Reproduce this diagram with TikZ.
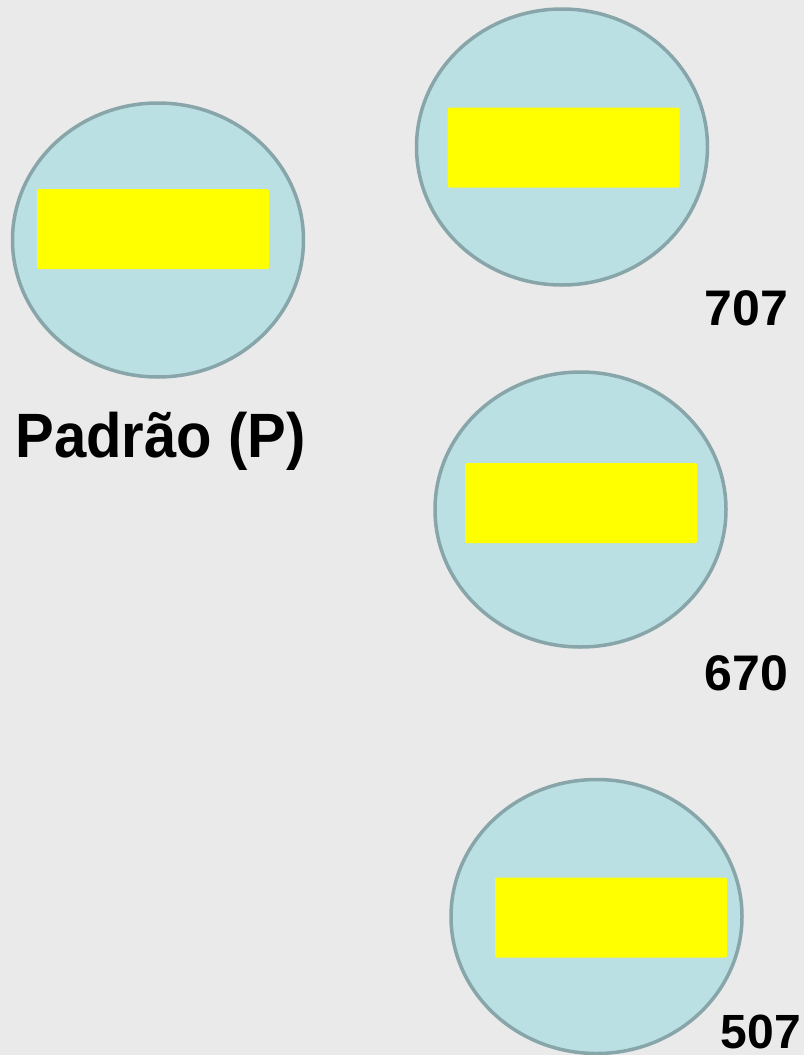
\documentclass[tikz,border=0pt]{standalone}
\usepackage{fontspec}
\setmainfont{Liberation Sans}
\definecolor{bgc}{HTML}{EAEAEA}
\definecolor{discfill}{HTML}{BBE0E3}
\definecolor{discline}{HTML}{88A6A9}
\definecolor{bar}{HTML}{FFFF00}
\begin{document}
\begin{tikzpicture}[x=1pt,y=-1pt,
  disc/.style={draw=discline,line width=3.5pt,fill=discfill},
  barbox/.style={fill=bar,rounded corners=1.5pt,minimum width=232pt,minimum height=80pt,inner sep=0pt},
  lbl/.style={font=\bfseries,inner sep=0pt,anchor=base}]
\fill[bgc] (0,0) rectangle (804,1055);
\useasboundingbox (0,0) rectangle (804,1055);
\path[disc] (158,240) ellipse [x radius=145.5pt,y radius=137pt];
\node[barbox] (barP) at (153,229) {};
\node[lbl,font=\bfseries\fontsize{58}{64}\selectfont,yscale=1.08] (tP) at (160.5,457) {Padrão (P)};
\path[disc] (562,147) ellipse [x radius=145.5pt,y radius=138pt];
\node[barbox] (bar1) at (563.5,147.5) {};
\node[lbl,font=\bfseries\fontsize{50}{56}\selectfont] (t1) at (746.5,325) {707};
\path[disc] (580.5,509.5) ellipse [x radius=145.5pt,y radius=137.5pt];
\node[barbox] (bar2) at (581,503) {};
\node[lbl,font=\bfseries\fontsize{50}{56}\selectfont] (t2) at (746.5,690) {670};
\path[disc] (596.5,916.5) ellipse [x radius=145.5pt,y radius=137pt];
\node[barbox] (bar3) at (611,917.5) {};
\node[lbl,font=\bfseries\fontsize{48}{54}\selectfont,text depth=0pt] (t3) at (761,1048) {507};
\end{tikzpicture}
\end{document}
